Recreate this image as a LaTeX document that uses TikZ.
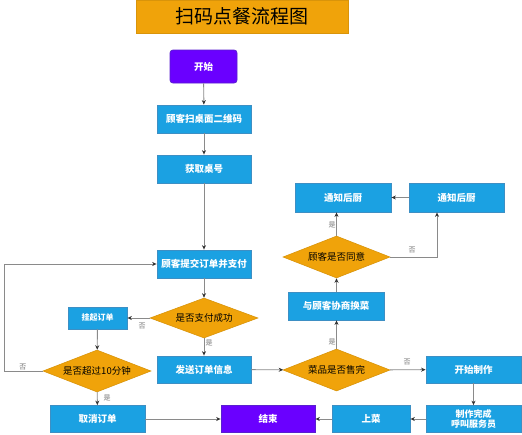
\documentclass[tikz,border=0pt]{standalone}
\usepackage{fontspec}
\setmainfont{Noto Sans CJK SC}
\usetikzlibrary{shapes.geometric,arrows.meta}
\definecolor{cblue}{HTML}{1BA1E2}
\definecolor{cbluedk}{HTML}{3D8FC4}
\definecolor{corange}{HTML}{F0A30A}
\definecolor{corangedk}{HTML}{D9940A}
\definecolor{cpurple}{HTML}{6A00FF}
\definecolor{cpurpledk}{HTML}{5A1FD0}
\definecolor{cline}{HTML}{8A8A8A}
\definecolor{ctip}{HTML}{333333}
\definecolor{clabel}{HTML}{777777}
\begin{document}
\begin{tikzpicture}[x=1pt,y=-1pt,
  bluebox/.style={draw=cbluedk,fill=cblue,text=white,line width=0.8pt,inner sep=0pt,font=\fontsize{9.5}{11}\selectfont\bfseries,align=center},
  purplebox/.style={draw=cpurpledk,fill=cpurple,text=white,line width=0.8pt,inner sep=0pt,font=\fontsize{9.5}{11}\selectfont\bfseries,rounded corners=3pt},
  decision/.style={shape=diamond,draw=corangedk,fill=corange,text=black,line width=0.6pt,inner sep=0pt,aspect=2.6,font=\fontsize{9.5}{11}\selectfont},
  flow/.style={draw=cline,line width=0.9pt,-{Stealth[length=4.5pt,width=4pt,color=ctip]}},
  plain/.style={draw=cline,line width=0.9pt},
  lbl/.style={text=clabel,font=\fontsize{7}{8}\selectfont,inner sep=0pt}
]
\useasboundingbox (0,0) rectangle (522,434);
\fill[white] (0,0) rectangle (522,434);
% title
\node[draw=corangedk,fill=corange,minimum width=212pt,minimum height=33pt,inner sep=0pt,font=\fontsize{19}{22}\selectfont] (title) at (242,16.5) {扫码点餐流程图};
% nodes
\node[purplebox,minimum width=67pt,minimum height=33pt] (start) at (203.5,66.5) {开始};
\node[bluebox,minimum width=94pt,minimum height=28pt] (scan) at (204,119) {顾客扫桌面二维码};
\node[bluebox,minimum width=94pt,minimum height=28pt] (table) at (204,169) {获取桌号};
\node[bluebox,minimum width=94pt,minimum height=28pt] (submit) at (204,264) {顾客提交订单并支付};
\node[decision,minimum width=108pt,minimum height=40pt] (pay) at (204,318) {是否支付成功};
\node[bluebox,minimum width=59pt,minimum height=22pt,font=\fontsize{8}{9}\selectfont\bfseries] (hang) at (97.5,318) {挂起订单};
\node[decision,minimum width=108pt,minimum height=42pt] (over) at (97,371) {是否超过10分钟};
\node[bluebox,minimum width=94pt,minimum height=27pt] (send) at (204,369.5) {发送订单信息};
\node[bluebox,minimum width=95pt,minimum height=27pt] (cancel) at (97.5,419) {取消订单};
\node[purplebox,rounded corners=0pt,minimum width=94pt,minimum height=27pt] (end) at (268,419) {结束};
\node[bluebox,minimum width=78pt,minimum height=27pt] (serve) at (371,419) {上菜};
\node[bluebox,minimum width=95pt,minimum height=27pt,font=\fontsize{9}{10}\selectfont\bfseries] (done) at (473.5,419) {制作完成\\呼叫服务员};
\node[bluebox,minimum width=95pt,minimum height=27pt] (make) at (473.5,369.5) {开始制作};
\node[decision,minimum width=107pt,minimum height=42pt] (sold) at (336.5,370) {菜品是否售完};
\node[bluebox,minimum width=96pt,minimum height=28pt] (nego) at (336,306) {与顾客协商换菜};
\node[decision,minimum width=107pt,minimum height=42pt] (agree) at (336.5,257) {顾客是否同意};
\node[bluebox,minimum width=96pt,minimum height=29pt] (notifyL) at (343,197.5) {通知后厨};
\node[bluebox,minimum width=95pt,minimum height=29pt] (notifyR) at (456.5,197.5) {通知后厨};
\coordinate (loopc) at (4,371);
\coordinate (agc) at (437,257);
% connectors
\draw[flow] (start) -- (scan);
\draw[flow] (scan) -- (table);
\draw[flow] (table) -- (submit);
\draw[flow] (submit) -- (pay);
\draw[flow] (pay) -- (hang);
\draw[flow] (pay) -- (send);
\draw[flow] (hang) -- (over);
\draw[flow] (over) -- (cancel);
\draw[flow] (over.west) -- (loopc) |- (submit.west);
\draw[flow] (cancel) -- (end);
\draw[flow] (send) -- (sold);
\draw[flow] (sold.north) -- (sold.north |- nego.south);
\draw[flow] (sold) -- (make);
\draw[flow] (nego.north -| agree.north) -- (agree.south);
\draw[flow] (agree.north) -- (agree.north |- notifyL.south);
\draw[flow] (agree.east) -- (agc) -- (agc |- notifyR.south);
\draw[flow] (notifyR) -- (notifyL);
\draw[flow] (make) -- (done);
\draw[flow] (done) -- (serve);
\draw[flow] (serve) -- (end);
% labels
\node[lbl] (l1) at (142,326) {否};
\node[lbl] (l2) at (209,343) {是};
\node[lbl] (l3) at (107,398) {是};
\node[lbl] (l4) at (23,367) {否};
\node[lbl] (l5) at (332,342) {是};
\node[lbl] (l6) at (407,362) {否};
\node[lbl] (l7) at (332,225) {是};
\node[lbl] (l8) at (412,250) {否};
\end{tikzpicture}
\end{document}
